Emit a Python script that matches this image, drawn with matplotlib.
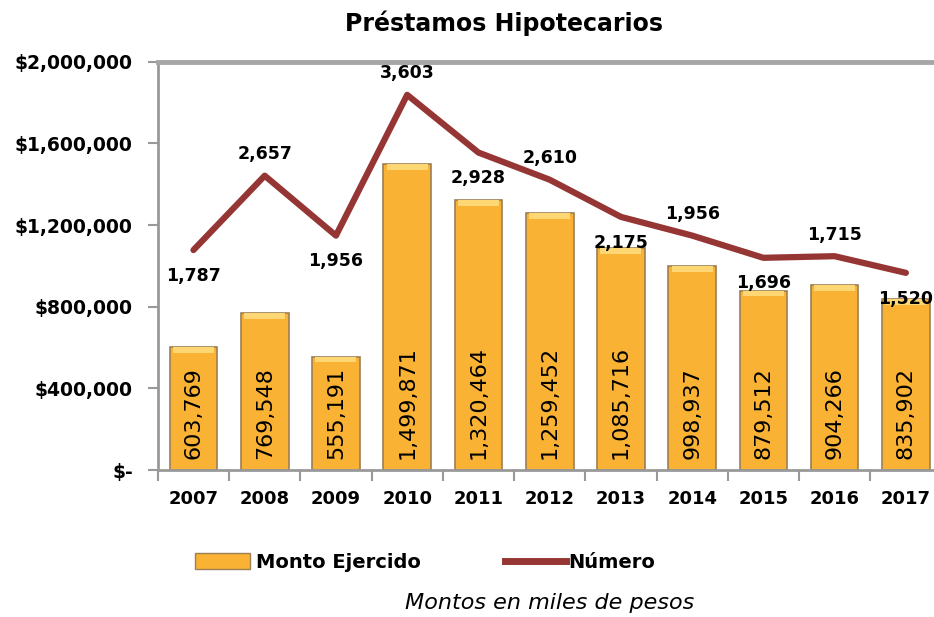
import matplotlib
matplotlib.use("Agg")
import matplotlib.pyplot as plt
from matplotlib.lines import Line2D
from matplotlib.patches import Patch

years = ["2007", "2008", "2009", "2010", "2011", "2012", "2013", "2014", "2015", "2016", "2017"]
monto = [603769, 769548, 555191, 1499871, 1320464, 1259452, 1085716, 998937, 879512, 904266, 835902]
numero = [1787, 2657, 1956, 3603, 2928, 2610, 2175, 1956, 1696, 1715, 1520]
label_above = [False, True, False, True, False, True, False, True, False, True, False]
yticks = [0, 400000, 800000, 1200000, 1600000, 2000000]
ytick_labels = ["$-", "$400,000", "$800,000", "$1,200,000", "$1,600,000", "$2,000,000"]

plt.rcParams['font.family'] = ['DejaVu Sans']

fig = plt.figure(figsize=(9.34, 6.17), dpi=100)
ax = fig.add_axes([0.169, 0.238, 0.839, 0.662])
x = list(range(len(years)))

bar_color = "#F9B233"
bw = 0.67
ax.bar(x, monto, width=bw, color=bar_color, edgecolor="#9C7F55", linewidth=1.2, zorder=2)
# top bevel highlight
cap = 28000
ax.bar(x, [cap] * len(monto), bottom=[v - cap for v in monto], width=bw * 0.86,
       color="#FDD774", linewidth=0, zorder=2.5)
for xi, v in zip(x, monto):
    ax.text(xi, 55000, f"{v:,}", rotation=90, ha="center", va="bottom",
            fontsize=16, color="black", zorder=4)

ax.set_xlim(-0.5, len(years) - 0.5)
ax.set_ylim(0, 2000000)
ax.set_yticks(yticks)
ax.set_yticklabels(ytick_labels, fontsize=13.5, fontweight="bold")
ax.set_xticks(x)
ax.set_xticklabels(years, fontsize=13, fontweight="bold")
ax.set_xticks([i - 0.5 for i in range(len(years) + 1)], minor=True)
ax.tick_params(axis="x", which="major", length=0, pad=14)
ax.tick_params(axis="x", which="minor", length=8, width=1.5, color="#999999", direction="out")
ax.tick_params(axis="y", length=7, width=1.5, color="#999999", pad=11)
for s in ["left", "bottom"]:
    ax.spines[s].set_color("#999999")
    ax.spines[s].set_linewidth(2)
ax.spines["top"].set_color("#A6A6A6")
ax.spines["top"].set_linewidth(3.5)
ax.spines["right"].set_visible(False)

ax2 = ax.twinx()
ax2.set_ylim(-789, 3991)
ax2.plot(x, numero, color="#963634", linewidth=4.5, solid_joinstyle="round",
         solid_capstyle="round", zorder=3)
for xi, v, up in zip(x, numero, label_above):
    ax2.annotate(f"{v:,}", (xi, v), xytext=(0, 9 if up else -12), textcoords="offset points",
                 ha="center", va="bottom" if up else "top", fontsize=12.5, fontweight="bold")
ax2.set_yticks([])
for s in ax2.spines.values():
    s.set_visible(False)

fig.text(0.54, 0.962, "Préstamos Hipotecarios", ha="center", va="center",
         fontsize=17, fontweight="bold")

handles = [Patch(facecolor=bar_color, edgecolor="#9C7F55"),
           Line2D([0], [0], color="#963634", linewidth=5)]
fig.legend(handles[:1], ["Monto Ejercido"], loc="center left", bbox_to_anchor=(0.209, 0.089),
           frameon=False, prop={"weight": "bold", "size": 14}, handlelength=2.8,
           handleheight=0.9, handletextpad=0.35, borderpad=0, borderaxespad=0)
fig.legend(handles[1:], ["Número"], loc="center left", bbox_to_anchor=(0.541, 0.089),
           frameon=False, prop={"weight": "bold", "size": 14}, handlelength=3.1,
           handletextpad=0.15, borderpad=0, borderaxespad=0)

fig.text(0.588, 0.023, "Montos en miles de pesos", ha="center", va="center",
         fontsize=16, fontstyle="italic", fontweight="light")

fig.savefig("out.png", dpi=100)
